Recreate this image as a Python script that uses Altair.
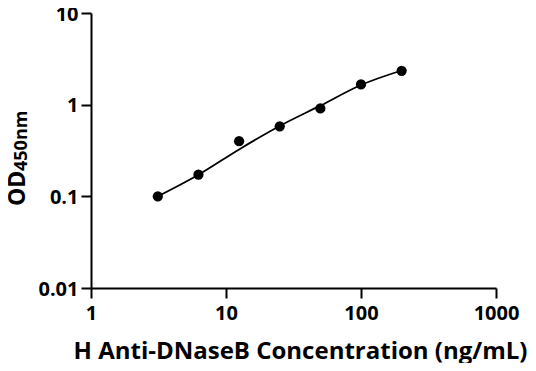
import altair as alt
import pandas as pd

# Data
conc = [3.125, 6.25, 12.5, 25, 50, 100, 200]
od = [0.100, 0.172, 0.399, 0.58, 0.91, 1.66, 2.34]
fit = [0.100, 0.172, 0.325, 0.585, 0.975, 1.64, 2.36]

x_ticks = [1, 10, 100, 1000]
y_ticks = [0.01, 0.1, 1, 10]

df = pd.DataFrame({"conc": conc, "od": od, "fit": fit})

FONT = "Open Sans"

xscale = alt.Scale(type="log", domain=[1, 1000], nice=False)
yscale = alt.Scale(type="log", domain=[0.01, 10], nice=False)

xaxis = alt.Axis(
    values=x_ticks, format="~g", grid=False,
    domainColor="black", domainWidth=2, tickColor="black", tickWidth=2, tickSize=10,
    labelFont=FONT, labelFontWeight="bold", labelFontSize=20, labelColor="black",
    labelPadding=5, labelFlush=False,
    title="H Anti-DNaseB Concentration (ng/mL)", titleFont=FONT, titleFontWeight="bold",
    titleFontSize=24, titleColor="black", titlePadding=16, titleX=209,
)
yaxis = alt.Axis(
    values=y_ticks, format="~g", grid=False,
    domainColor="black", domainWidth=2, tickColor="black", tickWidth=2, tickSize=10,
    labelFont=FONT, labelFontWeight="bold", labelFontSize=20, labelColor="black",
    labelPadding=3, labelFlush=False, labelOffset=1, title=None,
)

base = alt.Chart(df)

line = base.mark_line(color="black", strokeWidth=1.8, interpolate="monotone").encode(
    x=alt.X("conc:Q", scale=xscale, axis=xaxis),
    y=alt.Y("fit:Q", scale=yscale, axis=yaxis),
)
pts = base.mark_circle(color="black", opacity=1, size=105).encode(
    x=alt.X("conc:Q", scale=xscale),
    y=alt.Y("od:Q", scale=yscale),
)

od_txt = alt.Chart(pd.DataFrame({"t": ["OD"]})).mark_text(
    font=FONT, fontWeight="bold", fontSize=23, angle=270, align="left",
    baseline="alphabetic", color="black"
).encode(text="t:N", x=alt.value(-66), y=alt.value(193))
sub_txt = alt.Chart(pd.DataFrame({"t": ["450nm"]})).mark_text(
    font=FONT, fontWeight="bold", fontSize=18, angle=270, align="left",
    baseline="alphabetic", color="black"
).encode(text="t:N", x=alt.value(-64), y=alt.value(158))

chart = alt.layer(line, pts, od_txt, sub_txt).properties(
    width=405, height=275, autosize="none",
    padding={"left": 83, "top": 5, "right": 32, "bottom": 75},
).configure_view(strokeWidth=0)

chart.save("out.html", embed_options={"renderer": "svg", "actions": False})
